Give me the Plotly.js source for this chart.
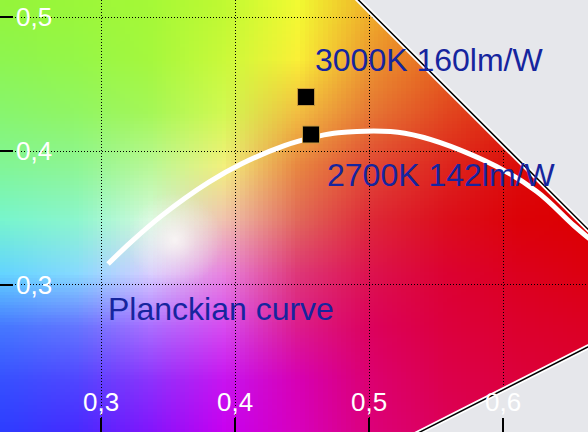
<!DOCTYPE html>
<html>
<head>
<meta charset="utf-8">
<script src="https://cdn.plot.ly/plotly-3.0.1.min.js"></script>
<style>
  html, body { margin: 0; padding: 0; background: #e6e7eb; }
  #plot { width: 588px; height: 432px; }
</style>
</head>
<body>
<div id="plot"></div>
<script>
// Planckian locus
const planck_x = [0.3052, 0.3221, 0.3451, 0.3805, 0.4053, 0.4369, 0.4599, 0.4770, 0.5267, 0.5857, 0.6249, 0.6528, 0.6700]
const planck_y = [0.3156, 0.3318, 0.3516, 0.3768, 0.3907, 0.4041, 0.4106, 0.4137, 0.4133, 0.3931, 0.3700, 0.3444, 0.3300]

// LED points
const led_names = ["3000K 160lm/W", "2700K 142lm/W"]
const led_x = [0.4530, 0.4567]
const led_y = [0.4404, 0.4124]

// gamut border (spectral locus red end and line of purples)
const locus_x = [0.4700, 0.7217, 0.5000]
const locus_y = [0.5350, 0.2833, 0.1708]

// outside of the gamut
const outside_x = [0.4700, 0.7217, 0.5000, 0.5000, 0.8000, 0.8000, 0.4700]
const outside_y = [0.5350, 0.2833, 0.1708, 0.1500, 0.1500, 0.5600, 0.5600]

// whitest spot of the colour field
const white_x = 0.3552, white_y = 0.3336, white_r = 0.036

// background colour samples, rows from y=0.51 down to y=0.19, columns x=0.225 .. 0.665
const bg_x0 = 0.225, bg_dx = 0.055
const bg_y0 = 0.51, bg_dy = 0.04
const bg_colors = [
    [[148,245,60],[155,247,58],[165,249,55],[192,250,50],[242,250,50],[240,175,40],[232,110,25],[225,50,10],[220,10,0]],
    [[142,245,80],[150,247,72],[165,248,62],[202,250,58],[250,240,55],[236,150,48],[230,100,30],[224,50,12],[220,10,0]],
    [[136,245,110],[145,246,100],[165,247,88],[210,249,82],[242,190,65],[230,118,52],[226,72,32],[222,35,12],[220,5,0]],
    [[130,245,150],[142,246,148],[185,248,150],[242,240,125],[232,135,65],[225,72,52],[222,38,30],[220,12,10],[220,0,0]],
    [[120,245,205],[140,246,205],[212,250,220],[240,195,175],[225,105,90],[222,40,55],[220,15,28],[220,2,8],[220,0,0]],
    [[100,212,255],[135,218,255],[215,205,255],[232,130,222],[222,55,120],[221,18,78],[220,2,50],[220,0,30],[220,0,15]],
    [[70,120,255],[100,118,255],[170,110,255],[215,75,240],[220,28,140],[220,2,92],[220,0,62],[220,0,45],[220,0,35]],
    [[55,80,255],[80,70,255],[140,50,252],[200,20,240],[215,0,180],[220,0,112],[220,0,76],[220,0,60],[220,0,48]],
    [[45,60,255],[70,42,255],[130,20,252],[200,0,240],[215,0,190],[220,0,122],[220,0,90],[220,0,70],[220,0,55]]
]

const x_ticks = [0.3, 0.4, 0.5, 0.6]
const y_ticks = [0.2, 0.3, 0.4, 0.5]
const y_tick_text = ["", "0,3", "0,4", "0,5"]

function background_url() {
    const rows = bg_colors.length
    const cols = bg_colors[0].length
    const canvas = document.createElement("canvas")
    canvas.width = cols
    canvas.height = rows
    const ctx = canvas.getContext("2d")
    const img = ctx.createImageData(cols, rows)
    for (let j = 0; j < rows; j++) {
        for (let i = 0; i < cols; i++) {
            const k = (j * cols + i) * 4
            img.data[k] = bg_colors[j][i][0]
            img.data[k + 1] = bg_colors[j][i][1]
            img.data[k + 2] = bg_colors[j][i][2]
            img.data[k + 3] = 255
        }
    }
    ctx.putImageData(img, 0, 0)
    return canvas.toDataURL("image/png")
}

// soft white glow round the white point
function glow_url() {
    const canvas = document.createElement("canvas")
    canvas.width = 64
    canvas.height = 64
    const ctx = canvas.getContext("2d")
    const g = ctx.createRadialGradient(32, 32, 0, 32, 32, 32)
    g.addColorStop(0, "rgba(255,252,250,0.8)")
    g.addColorStop(0.45, "rgba(255,250,250,0.35)")
    g.addColorStop(1, "rgba(255,250,250,0)")
    ctx.fillStyle = g
    ctx.fillRect(0, 0, 64, 64)
    return canvas.toDataURL("image/png")
}

const gray = "#e6e7eb"
const label_font = { family: "Liberation Sans, Arial, sans-serif", size: 32, color: "#16259e" }

let data = []

data.push({ type: "scatter", mode: "lines", x: outside_x, y: outside_y, fill: "toself", fillcolor: gray,
            line: { width: 0, color: gray }, hoverinfo: "none", showlegend: false })
data.push({ type: "scatter", mode: "lines", x: locus_x, y: locus_y,
            line: { width: 5, color: "white" }, hoverinfo: "none", showlegend: false })
data.push({ type: "scatter", mode: "lines", x: locus_x, y: locus_y,
            line: { width: 1.5, color: "black" }, hoverinfo: "none", showlegend: false })
data.push({ type: "scatter", mode: "lines", x: planck_x, y: planck_y, line: { width: 5, color: "white", shape: "spline" },
            hoverinfo: "none", showlegend: false })
data.push({ type: "scatter", mode: "markers", x: led_x, y: led_y,
            marker: { symbol: "square", size: 17, color: "black", line: { width: 1, color: "#c89a40" } },
            hoverinfo: "none", showlegend: false })
// empty trace so the tick-only axis y2 gets drawn
data.push({ type: "scatter", mode: "markers", x: led_x, y: led_y, yaxis: "y2", opacity: 0,
            hoverinfo: "none", showlegend: false })

const rows = bg_colors.length
const cols = bg_colors[0].length
const y_range = [0.1901, 0.5129]

let layout = {
    width: 588, height: 432,
    margin: { l: 0, r: 0, t: 0, b: 0 },
    paper_bgcolor: gray,
    plot_bgcolor: gray,
    separators: ", ",
    showlegend: false,
    font: { family: "Liberation Sans, Arial, sans-serif" },
    xaxis: { range: [0.2246, 0.6634], tickvals: x_ticks, tickformat: ".1f", ticks: "inside", ticklen: 14, tickwidth: 2,
             tickcolor: "black", ticklabelposition: "inside", ticklabelstandoff: 4, tickfont: { size: 26, color: "white" },
             showgrid: true, gridcolor: "black", gridwidth: 1, griddash: "1px,2px", zeroline: false, showline: false },
    yaxis: { range: y_range, tickvals: y_ticks, ticktext: y_tick_text, ticks: "",
             ticklabelposition: "inside", ticklabelstandoff: 13, tickfont: { size: 26, color: "white" },
             showgrid: true, gridcolor: "black", gridwidth: 1, griddash: "1px,2px", zeroline: false, showline: false },
    yaxis2: { range: y_range, overlaying: "y", side: "left", tickvals: y_ticks, ticks: "inside", ticklen: 13, tickwidth: 2,
              tickcolor: "black", showticklabels: false, showgrid: false, zeroline: false, showline: false },
    images: [
        { source: background_url(), xref: "x", yref: "y",
          x: bg_x0 - bg_dx / 2, y: bg_y0 + bg_dy / 2, sizex: cols * bg_dx, sizey: rows * bg_dy,
          xanchor: "left", yanchor: "top", sizing: "stretch", layer: "below" },
        { source: glow_url(), xref: "x", yref: "y",
          x: white_x - white_r, y: white_y + white_r, sizex: 2 * white_r, sizey: 2 * white_r,
          xanchor: "left", yanchor: "top", sizing: "stretch", layer: "below" }
    ],
    annotations: [
        { text: led_names[0], xref: "paper", yref: "paper", x: 0.533, y: 0.86, xanchor: "left", yanchor: "middle",
          showarrow: false, font: label_font },
        { text: led_names[1], xref: "paper", yref: "paper", x: 0.552, y: 0.594, xanchor: "left", yanchor: "middle",
          showarrow: false, font: label_font },
        { text: "Planckian curve", xref: "paper", yref: "paper", x: 0.181, y: 0.284, xanchor: "left", yanchor: "middle",
          showarrow: false, font: label_font }
    ]
}

Plotly.newPlot(document.getElementById("plot"), data, layout, { displayModeBar: false, staticPlot: true })
</script>
</body>
</html>
